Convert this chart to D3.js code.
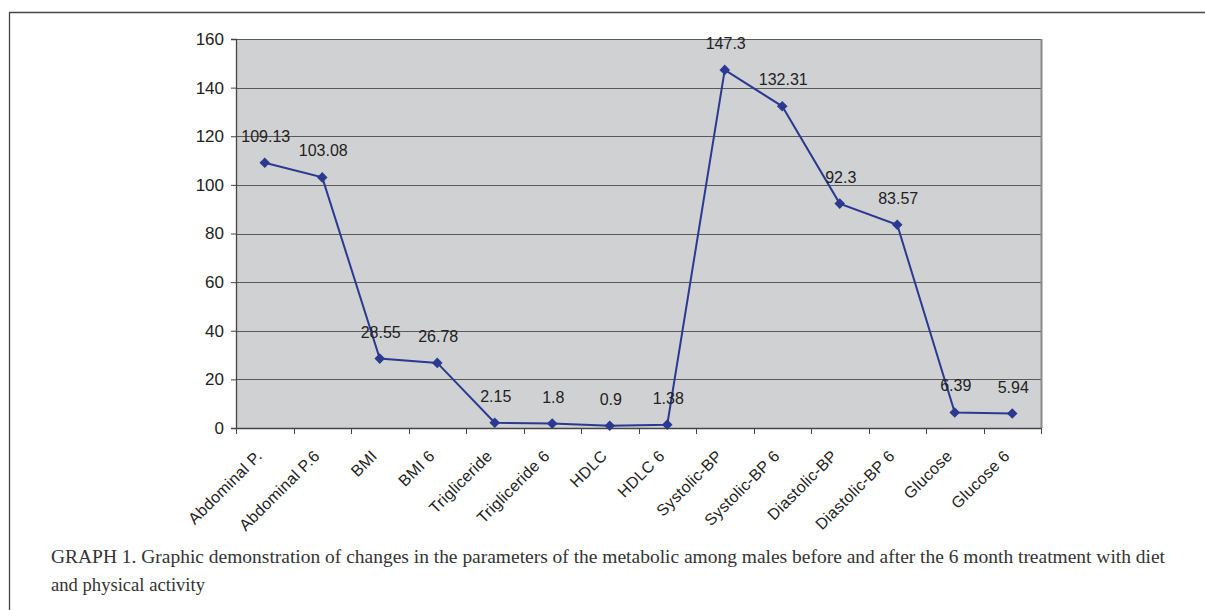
<!DOCTYPE html>
<html><head><meta charset="utf-8">
<script src="https://cdn.jsdelivr.net/npm/d3@7"></script>
<style>body{margin:0;background:#fff}svg{display:block}</style>
</head><body>
<svg id="c" width="1205" height="610"></svg>
<script>
const categories = ["Abdominal P.","Abdominal P.6","BMI","BMI 6","Trigliceride","Trigliceride 6","HDLC","HDLC 6","Systolic-BP","Systolic-BP 6","Diastolic-BP","Diastolic-BP 6","Glucose","Glucose 6"];
const values = [109.13,103.08,28.55,26.78,2.15,1.8,0.9,1.38,147.3,132.31,92.3,83.57,6.39,5.94];
const valueLabels = ["109.13","103.08","28.55","26.78","2.15","1.8","0.9","1.38","147.3","132.31","92.3","83.57","6.39","5.94"];
const yTicks = [0,20,40,60,80,100,120,140,160];
const captionLines = ["GRAPH 1.  Graphic demonstration of changes in the parameters of the metabolic among males before and after the 6 month treatment with diet","and physical activity"];

const svg = d3.select("#c");
const L=236, R=1041, T=39, B=428;
const x = d3.scaleBand().domain(categories).range([L,R]);
const y = d3.scaleLinear().domain([0,160]).range([B,T]);
const SANS = "'Liberation Sans', Arial, sans-serif";

// frame
svg.append("path").attr("d","M9.5,610 V12.5 H1205").attr("fill","none").attr("stroke","#444").attr("stroke-width",1.3);

// plot bg
svg.append("rect").attr("x",L).attr("y",T).attr("width",R-L).attr("height",B-T).attr("fill","#d0d1d3");
// gridlines
svg.append("g").selectAll("line").data(yTicks.filter(d=>d>0)).join("line")
  .attr("x1",L).attr("x2",R).attr("y1",d=>Math.round(y(d))+0.5).attr("y2",d=>Math.round(y(d))+0.5)
  .attr("stroke","#595959").attr("stroke-width",1.2);
// right border
svg.append("line").attr("x1",R+0.5).attr("x2",R+0.5).attr("y1",T).attr("y2",B).attr("stroke","#8a8a8a").attr("stroke-width",2);

// y axis
const ya = svg.append("g").attr("transform",`translate(${L},0)`)
  .call(d3.axisLeft(y).tickValues(yTicks).tickSize(5).tickPadding(7));
ya.select(".domain").attr("stroke","#444").attr("stroke-width",1.3);
ya.selectAll(".tick line").attr("stroke","#444");
ya.selectAll("text").attr("font-family",SANS).attr("font-size",17).attr("fill","#222");

// x axis
const xa = svg.append("g").attr("transform",`translate(0,${B})`);
xa.append("line").attr("x1",L).attr("x2",R+1).attr("y1",0.5).attr("y2",0.5).attr("stroke","#444").attr("stroke-width",1.3);
const bounds = categories.map(c=>x(c)).concat([R]);
xa.selectAll("line.tk").data(bounds).join("line").attr("class","tk")
  .attr("x1",d=>Math.round(d)+0.5).attr("x2",d=>Math.round(d)+0.5).attr("y1",0).attr("y2",6).attr("stroke","#444");
xa.selectAll("text").data(categories).join("text")
  .attr("transform",d=>`translate(${x(d)+x.bandwidth()/2-5.5},${25}) rotate(-45)`)
  .attr("text-anchor","end").attr("dy","0.35em")
  .attr("font-family",SANS).attr("font-size",16).attr("letter-spacing",0.3).attr("fill","#222")
  .text(d=>d);

// line
const cx = d=>x(d)+x.bandwidth()/2;
const pts = categories.map((c,i)=>[cx(c), y(values[i])]);
svg.append("path").attr("d",d3.line()(pts)).attr("fill","none").attr("stroke","#2b3990").attr("stroke-width",2);
svg.append("g").selectAll("path").data(pts).join("path")
  .attr("d",d3.symbol(d3.symbolSquare,56)())
  .attr("transform",d=>`translate(${d[0]},${d[1]}) rotate(45)`)
  .attr("fill","#2b3990");
svg.append("g").selectAll("text").data(pts).join("text")
  .attr("x",d=>d[0]+1).attr("y",d=>d[1]-21)
  .attr("text-anchor","middle")
  .attr("font-family",SANS).attr("font-size",16).attr("fill","#222")
  .text((d,i)=>valueLabels[i]);

// caption
svg.append("g").selectAll("text").data(captionLines).join("text")
  .attr("x",51).attr("y",(d,i)=>563+i*28)
  .attr("font-family","'Liberation Serif', 'Times New Roman', serif").attr("font-size",19).attr("fill","#333")
  .attr("textLength",(d,i)=>i===0?1114:154).attr("lengthAdjust","spacingAndGlyphs")
  .text(d=>d);
</script>
</body></html>
